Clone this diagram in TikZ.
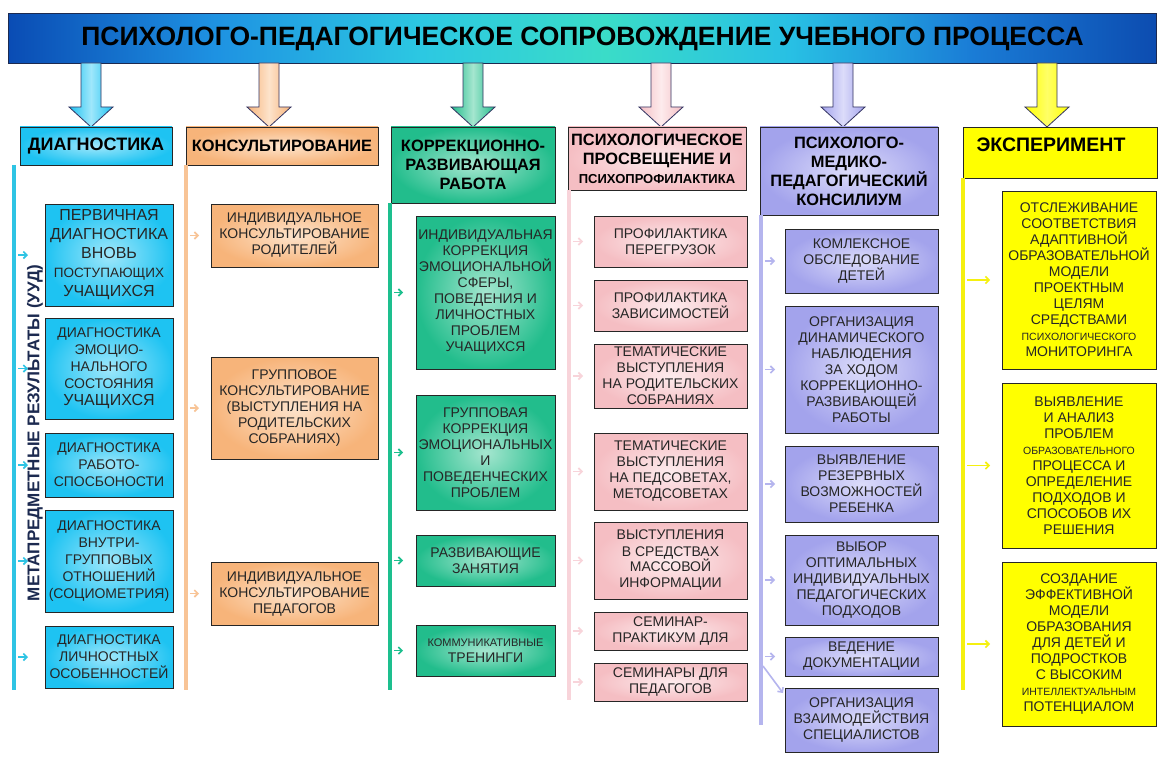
\documentclass[tikz,border=0pt]{standalone}
\usepackage{fontspec}
\setmainfont{Liberation Sans}
\usetikzlibrary{arrows.meta,calc}
\definecolor{cyanE}{HTML}{1EC3F2}
\definecolor{cyanI}{HTML}{9FE7FB}
\definecolor{cyanL}{HTML}{2EC4E4}
\definecolor{orE}{HTML}{F7B47A}
\definecolor{orI}{HTML}{FDE3CB}
\definecolor{orL}{HTML}{F8C496}
\definecolor{grE}{HTML}{22BD8C}
\definecolor{grI}{HTML}{A5E6CF}
\definecolor{grL}{HTML}{1DBF8E}
\definecolor{pkE}{HTML}{F5BEC3}
\definecolor{pkI}{HTML}{FDEBED}
\definecolor{pkL}{HTML}{F8D4DA}
\definecolor{lvE}{HTML}{A3A3EC}
\definecolor{lvI}{HTML}{DCDCFA}
\definecolor{lvL}{HTML}{B5B5EE}
\definecolor{ylE}{HTML}{FFFF00}
\definecolor{ylL}{HTML}{F5F010}
\definecolor{navy}{HTML}{1C2A50}
\definecolor{tA}{HTML}{0A4CB4}
\definecolor{tB}{HTML}{1E92E2}
\definecolor{tC}{HTML}{2CC8E2}
\definecolor{tD}{HTML}{3ADCC8}
\definecolor{tE}{HTML}{28C0E4}
\definecolor{tF}{HTML}{1A7CD6}
\definecolor{tG}{HTML}{0C4CB0}
\pgfdeclarehorizontalshading{ttl}{100bp}{color(0bp)=(tA); color(25bp)=(tA); color(34bp)=(tB); color(43bp)=(tC); color(51bp)=(tD); color(59bp)=(tE); color(67bp)=(tF); color(75bp)=(tG); color(100bp)=(tG)}
\newcommand\bx[7]{\node[#1, anchor=north west, minimum width={(#5)-(#3)}, minimum height={(#6)-(#4)}] (#2) at (#3,#4) {#7};}
\newcommand\barw[4]{%
  \coordinate (#4s) at (#1,63); \coordinate (#4e) at (#1,127);
  \path[barrow, left color=#2, right color=#2, middle color=#3]
    ($(#4s)+(-10,0)$) -- ($(#4s)+(10,0)$) -- ($(#4e)+(10,-20)$) -- ($(#4e)+(22,-20)$) -- (#4e)
    -- ($(#4e)+(-22,-20)$) -- ($(#4e)+(-10,-20)$) -- cycle;}
\tikzset{
  box/.style={draw=black!85, line width=0.8pt, inner sep=0pt, outer sep=0pt, align=center, text=black!85, font=\fontsize{14}{16}\selectfont},
  hd/.style={box, text=black, font=\bfseries\fontsize{16.4}{19}\selectfont},
  cy/.style={inner color=cyanI, outer color=cyanE},
  orr/.style={inner color=orI, outer color=orE},
  gr/.style={inner color=grI, outer color=grE},
  pk/.style={inner color=pkI, outer color=pkE},
  lv/.style={inner color=lvI, outer color=lvE},
  yl/.style={fill=ylE},
  barrow/.style={draw=black!70!blue!60!gray, line width=0.8pt, line join=miter},
  vline/.style={line width=4pt},
  sarr/.style={line width=1.6pt, -{Straight Barb[length=3.5pt,width=7pt]}},
}
\begin{document}
\begin{tikzpicture}[x=1pt,y=-1pt]
\useasboundingbox[fill=white] (0,0) rectangle (1174,762);
% title
\node[draw=navy, line width=1.2pt, shading=ttl, anchor=north west, minimum width=1148, minimum height=50, inner sep=0pt,
  font=\bfseries\fontsize{26.5}{28}\selectfont, text=black] (title) at (8,13) {ПСИХОЛОГО-ПЕДАГОГИЧЕСКОЕ СОПРОВОЖДЕНИЕ УЧЕБНОГО ПРОЦЕССА};
% block arrows
\barw{91}{cyanE}{cyanI}{a1}
\barw{269}{orE}{orI}{a2}
\barw{473}{grE}{grI}{a3}
\barw{661}{pkE}{pkI}{a4}
\barw{843}{lvE}{lvI}{a5}
\barw{1047}{ylE}{ylE!60!white}{a6}
% headers
\bx{hd,cy,font=\bfseries\fontsize{18}{19}\selectfont}{h1}{20}{127}{172}{165}{ДИАГНОСТИКА}
\bx{hd,orr}{h2}{186}{127}{378}{165}{КОНСУЛЬТИРОВАНИЕ}
\bx{hd,gr}{h3}{391}{127}{555}{203}{КОРРЕКЦИОННО-\\РАЗВИВАЮЩАЯ\\РАБОТА}
\bx{hd,pk}{h4}{568}{127}{746}{190}{ПСИХОЛОГИЧЕСКОЕ\\ПРОСВЕЩЕНИЕ И\\{\fontsize{13}{19}\selectfont ПСИХОПРОФИЛАКТИКА}}
\bx{hd,lv}{h5}{760}{127}{938}{215}{ПСИХОЛОГО-\\МЕДИКО-\\ПЕДАГОГИЧЕСКИЙ\\КОНСИЛИУМ}
\bx{hd,yl}{h6}{963}{127}{1157}{178}{}
\node[font=\bfseries\fontsize{19.5}{20}\selectfont, text=black] (h6t) at (1051,145) {ЭКСПЕРИМЕНТ};
% vertical lines
\coordinate (l1t) at (14,165); \coordinate (l1b) at (14,690);
\coordinate (l2t) at (186,165); \coordinate (l2b) at (186,690);
\coordinate (l3t) at (390,203); \coordinate (l3b) at (390,690);
\coordinate (l4t) at (569,190); \coordinate (l4b) at (569,700);
\coordinate (l5t) at (761,215); \coordinate (l5b) at (761,725);
\coordinate (l6t) at (963,178); \coordinate (l6b) at (963,690);
\draw[vline, cyanL] (l1t) -- (l1b);
\draw[vline, orL] (l2t) -- (l2b);
\draw[vline, grL] (l3t) -- (l3b);
\draw[vline, pkL] (l4t) -- (l4b);
\draw[vline, lvL] (l5t) -- (l5b);
\draw[vline, ylL] (l6t) -- (l6b);
% side label
\node[rotate=90, font=\bfseries\fontsize{17}{18}\selectfont, text=navy] (meta) at (35,433) {МЕТАПРЕДМЕТНЫЕ РЕЗУЛЬТАТЫ (УУД)};
% column 1
\bx{box,cy,font=\fontsize{16}{19}\selectfont}{d1}{45}{204}{173}{306}{ПЕРВИЧНАЯ\\ДИАГНОСТИКА\\ВНОВЬ\\{\fontsize{13.5}{19}\selectfont ПОСТУПАЮЩИХ}\\УЧАЩИХСЯ}
\bx{box,cy,font=\fontsize{14}{17}\selectfont}{d2}{45}{318}{173}{419}{ДИАГНОСТИКА\\ЭМОЦИО-\\НАЛЬНОГО\\СОСТОЯНИЯ\\{\fontsize{16}{17}\selectfont УЧАЩИХСЯ}}
\bx{box,cy,font=\fontsize{14}{17}\selectfont}{d3}{45}{433}{173}{497}{ДИАГНОСТИКА\\РАБОТО-\\СПОСБОНОСТИ}
\bx{box,cy,font=\fontsize{14}{17}\selectfont}{d4}{45}{510}{173}{612}{ДИАГНОСТИКА\\ВНУТРИ-\\ГРУППОВЫХ\\ОТНОШЕНИЙ\\(СОЦИОМЕТРИЯ)}
\bx{box,cy,font=\fontsize{14}{17}\selectfont}{d5}{45}{626}{173}{688}{ДИАГНОСТИКА\\ЛИЧНОСТНЫХ\\ОСОБЕННОСТЕЙ}
\foreach \n in {d1,d2,d3,d4,d5} \draw[sarr, cyanL] ([xshift=-27pt]\n.west) -- ([xshift=-17pt]\n.west);
% column 2
\bx{box,orr}{k1}{211}{204}{378}{267}{ИНДИВИДУАЛЬНОЕ\\КОНСУЛЬТИРОВАНИЕ\\РОДИТЕЛЕЙ}
\bx{box,orr}{k2}{211}{357}{378}{459}{ГРУППОВОЕ\\КОНСУЛЬТИРОВАНИЕ\\(ВЫСТУПЛЕНИЯ НА\\РОДИТЕЛЬСКИХ\\СОБРАНИЯХ)}
\bx{box,orr}{k3}{211}{562}{378}{625}{ИНДИВИДУАЛЬНОЕ\\КОНСУЛЬТИРОВАНИЕ\\ПЕДАГОГОВ}
\foreach \n in {k1,k2,k3} \draw[sarr, orL] ([xshift=-21pt]\n.west) -- ([xshift=-12pt]\n.west);
% column 3
\bx{box,gr}{r1}{416}{216}{555}{369}{ИНДИВИДУАЛЬНАЯ\\КОРРЕКЦИЯ\\ЭМОЦИОНАЛЬНОЙ\\СФЕРЫ,\\ПОВЕДЕНИЯ И\\ЛИЧНОСТНЫХ\\ПРОБЛЕМ\\УЧАЩИХСЯ}
\bx{box,gr}{r2}{416}{395}{555}{510}{ГРУППОВАЯ\\КОРРЕКЦИЯ\\ЭМОЦИОНАЛЬНЫХ\\И\\ПОВЕДЕНЧЕСКИХ\\ПРОБЛЕМ}
\bx{box,gr}{r3}{416}{535}{555}{586}{РАЗВИВАЮЩИЕ\\ЗАНЯТИЯ}
\bx{box,gr}{r4}{416}{625}{555}{676}{{\fontsize{11}{16}\selectfont КОММУНИКАТИВНЫЕ}\\ТРЕНИНГИ}
\foreach \n in {r1,r2,r3,r4} \draw[sarr, grL] ([xshift=-22pt]\n.west) -- ([xshift=-13pt]\n.west);
% column 4
\bx{box,pk}{p1}{594}{216}{747}{267}{ПРОФИЛАКТИКА\\ПЕРЕГРУЗОК}
\bx{box,pk}{p2}{594}{280}{747}{331}{ПРОФИЛАКТИКА\\ЗАВИСИМОСТЕЙ}
\bx{box,pk}{p3}{594}{344}{747}{408}{ТЕМАТИЧЕСКИЕ\\ВЫСТУПЛЕНИЯ\\НА РОДИТЕЛЬСКИХ\\СОБРАНИЯХ}
\bx{box,pk}{p4}{594}{433}{747}{510}{ТЕМАТИЧЕСКИЕ\\ВЫСТУПЛЕНИЯ\\НА ПЕДСОВЕТАХ,\\МЕТОДСОВЕТАХ}
\bx{box,pk}{p5}{594}{522}{747}{599}{ВЫСТУПЛЕНИЯ\\В СРЕДСТВАХ\\МАССОВОЙ\\ИНФОРМАЦИИ}
\bx{box,pk}{p6}{594}{612}{747}{650}{СЕМИНАР-\\ПРАКТИКУМ ДЛЯ}
\bx{box,pk}{p7}{594}{663}{747}{701}{СЕМИНАРЫ ДЛЯ\\ПЕДАГОГОВ}
\foreach \n in {p1,p2,p3,p4,p5,p6,p7} \draw[sarr, pkL] ([xshift=-21pt]\n.west) -- ([xshift=-11pt]\n.west);
% column 5
\bx{box,lv}{m1}{785}{229}{938}{293}{КОМЛЕКСНОЕ\\ОБСЛЕДОВАНИЕ\\ДЕТЕЙ}
\bx{box,lv}{m2}{785}{306}{938}{433}{ОРГАНИЗАЦИЯ\\ДИНАМИЧЕСКОГО\\НАБЛЮДЕНИЯ\\ЗА ХОДОМ\\КОРРЕКЦИОННО-\\РАЗВИВАЮЩЕЙ\\РАБОТЫ}
\bx{box,lv}{m3}{785}{446}{938}{522}{ВЫЯВЛЕНИЕ\\РЕЗЕРВНЫХ\\ВОЗМОЖНОСТЕЙ\\РЕБЕНКА}
\bx{box,lv}{m4}{785}{535}{938}{625}{ВЫБОР\\ОПТИМАЛЬНЫХ\\ИНДИВИДУАЛЬНЫХ\\ПЕДАГОГИЧЕСКИХ\\ПОДХОДОВ}
\bx{box,lv}{m5}{785}{637}{938}{676}{ВЕДЕНИЕ\\ДОКУМЕНТАЦИИ}
\bx{box,lv}{m6}{785}{688}{938}{752}{ОРГАНИЗАЦИЯ\\ВЗАИМОДЕЙСТВИЯ\\СПЕЦИАЛИСТОВ}
\foreach \n in {m1,m2,m3,m4,m5} \draw[sarr, lvL] ([xshift=-20pt]\n.west) -- ([xshift=-10pt]\n.west);
\coordinate (l5d) at (763,666);
\draw[sarr, lvL] (l5d) -- ([xshift=-2pt,yshift=-5pt]m6.north west);
% column 6
\bx{box,yl}{e1}{1002}{191}{1156}{369}{ОТСЛЕЖИВАНИЕ\\СООТВЕТСТВИЯ\\АДАПТИВНОЙ\\ОБРАЗОВАТЕЛЬНОЙ\\МОДЕЛИ\\ПРОЕКТНЫМ\\ЦЕЛЯМ\\СРЕДСТВАМИ\\{\fontsize{10.5}{16}\selectfont ПСИХОЛОГИЧЕСКОГО}\\МОНИТОРИНГА}
\bx{box,yl}{e2}{1002}{383}{1156}{548}{ВЫЯВЛЕНИЕ\\И АНАЛИЗ\\ПРОБЛЕМ\\{\fontsize{10.5}{16}\selectfont ОБРАЗОВАТЕЛЬНОГО}\\ПРОЦЕССА И\\ОПРЕДЕЛЕНИЕ\\ПОДХОДОВ И\\СПОСОБОВ ИХ\\РЕШЕНИЯ}
\bx{box,yl}{e3}{1002}{562}{1156}{726}{СОЗДАНИЕ\\ЭФФЕКТИВНОЙ\\МОДЕЛИ\\ОБРАЗОВАНИЯ\\ДЛЯ ДЕТЕЙ И\\ПОДРОСТКОВ\\С ВЫСОКИМ\\{\fontsize{10.5}{16}\selectfont ИНТЕЛЛЕКТУАЛЬНЫМ}\\ПОТЕНЦИАЛОМ}
\foreach \n in {e1,e2,e3} \draw[sarr, ylL] ([xshift=-35pt]\n.west) -- ([xshift=-12pt]\n.west);
\end{tikzpicture}
\end{document}
